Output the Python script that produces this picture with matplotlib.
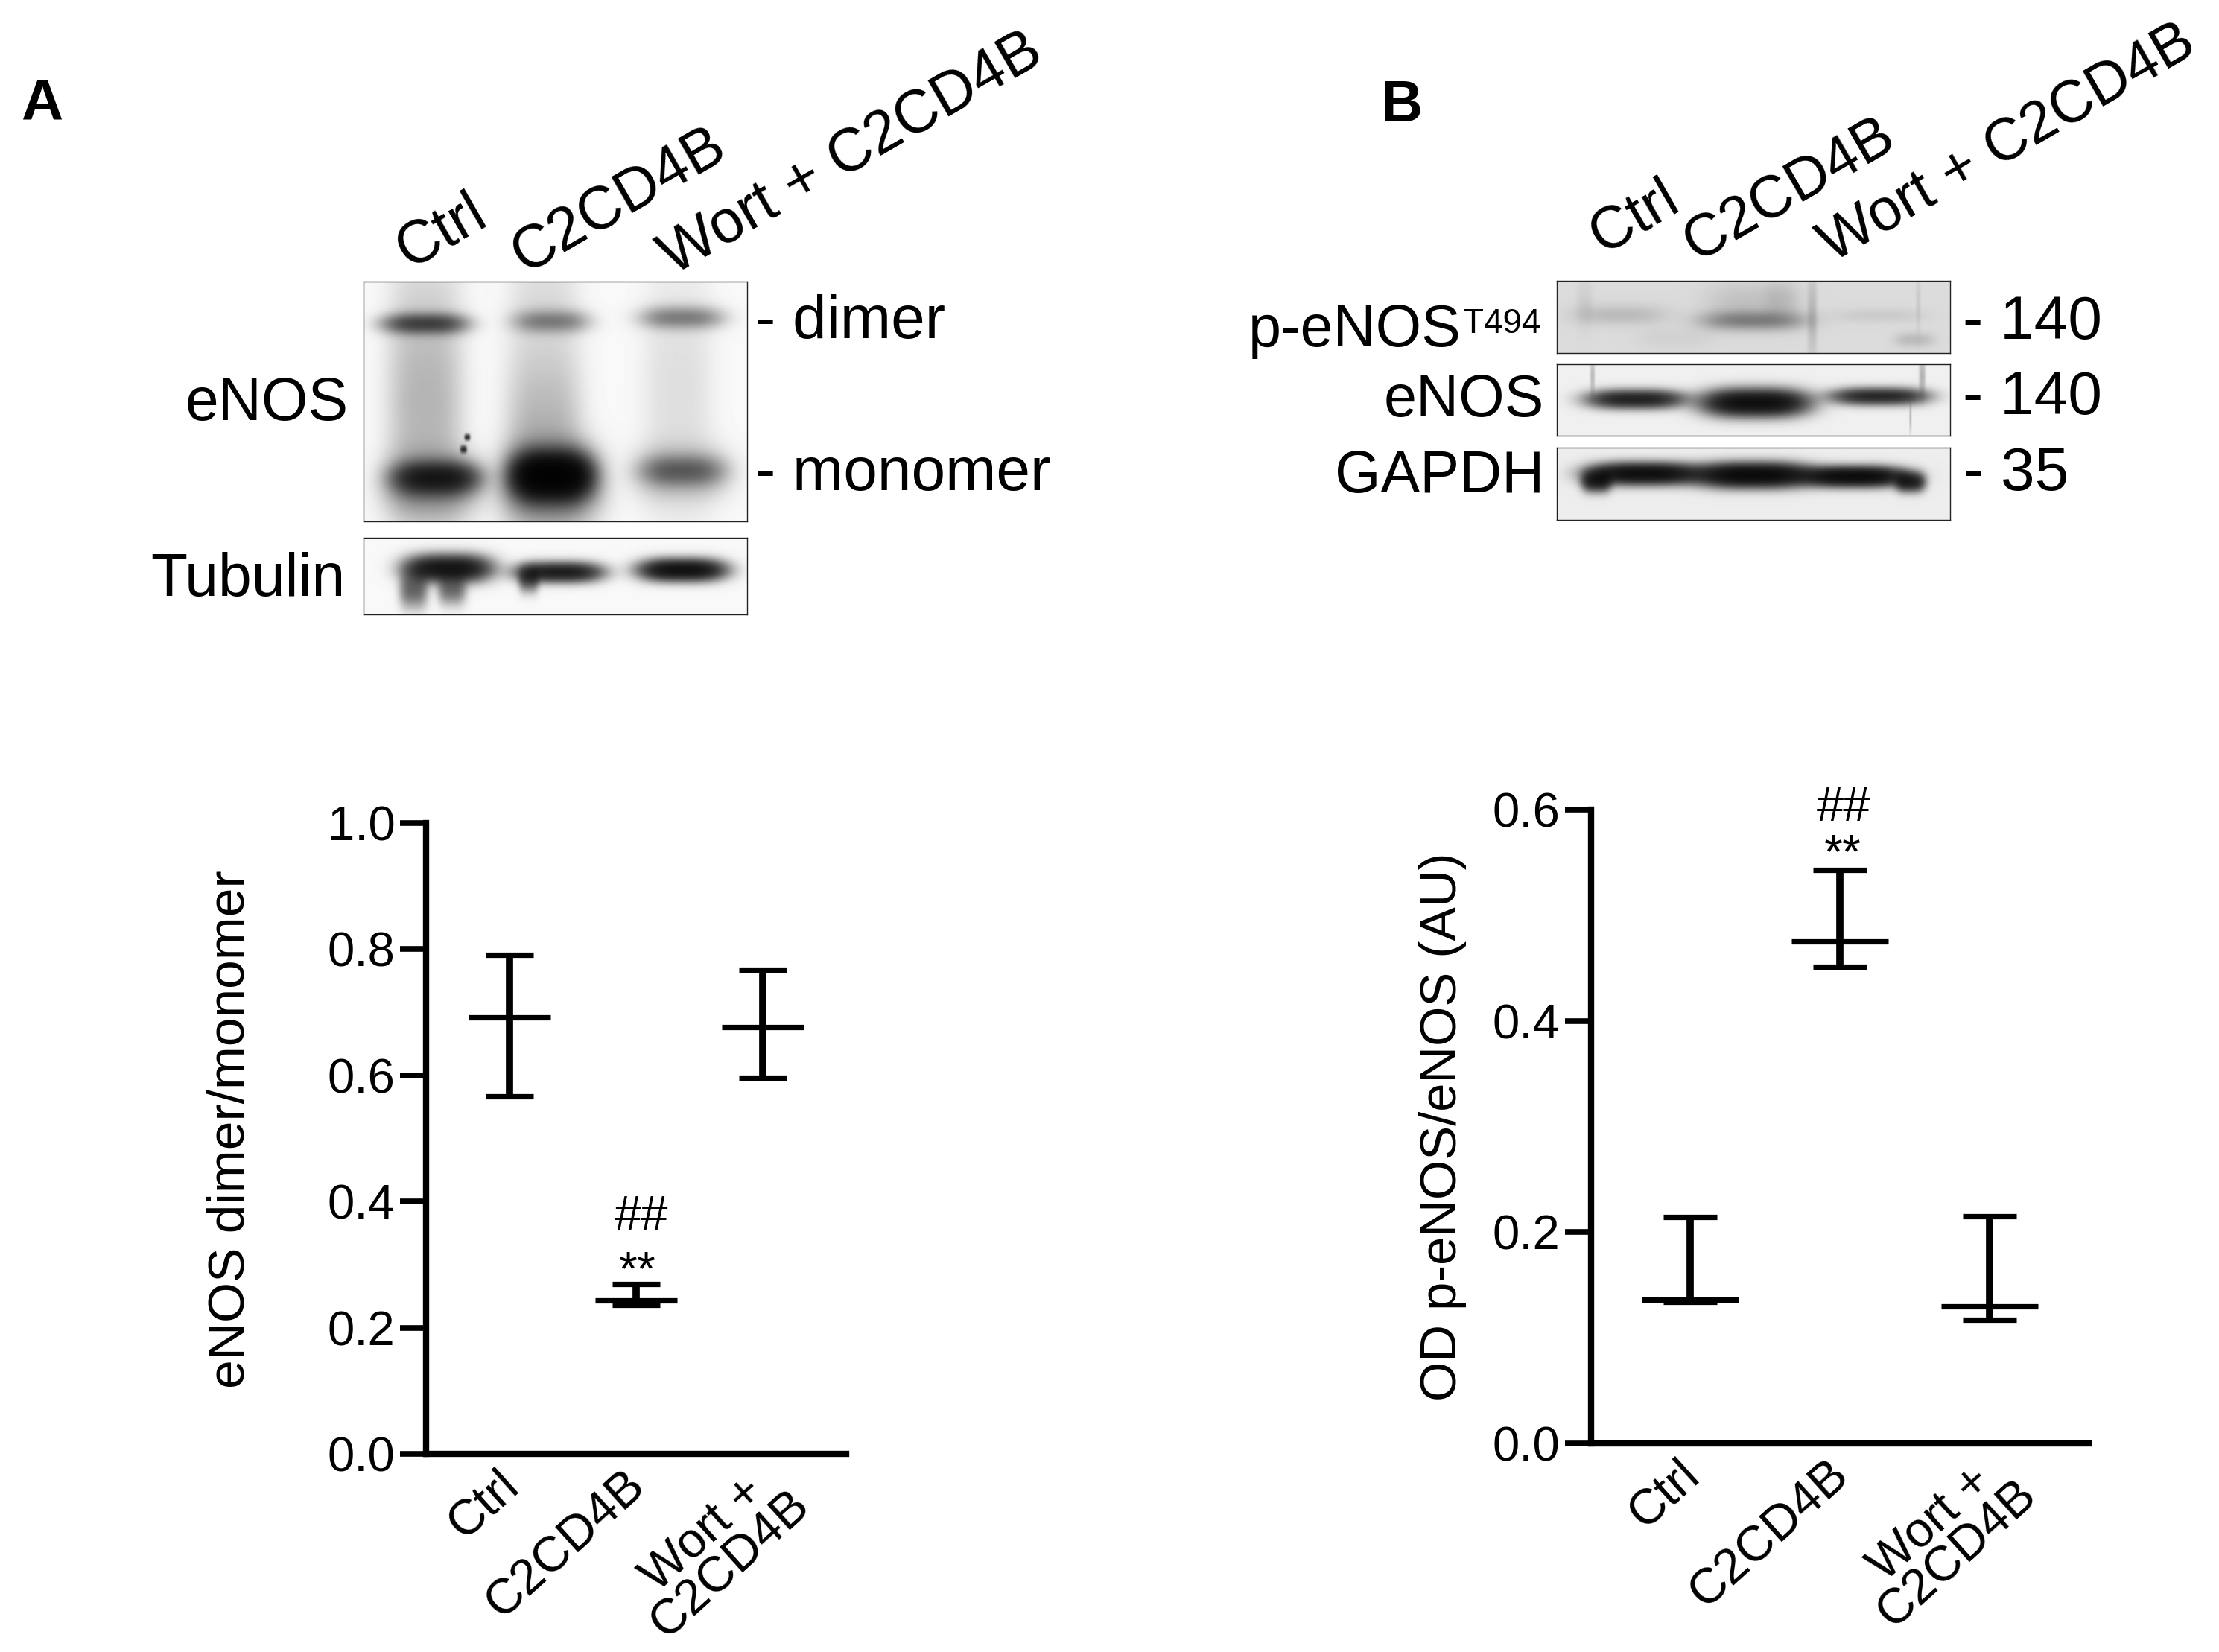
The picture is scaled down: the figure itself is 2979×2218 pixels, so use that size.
from __future__ import annotations

import matplotlib

matplotlib.use("Agg")
import matplotlib.pyplot as plt
from matplotlib.transforms import ScaledTranslation
import numpy as np

W, H = 2979, 2218
DPI = 100
FONT = ["Liberation Sans", "DejaVu Sans"]
plt.rcParams["font.family"] = FONT

GROUPS = ["Ctrl", "C2CD4B", "Wort +\nC2CD4B"]
A_MEAN = [0.692, 0.243, 0.677]
A_HIGH = [0.791, 0.269, 0.768]
A_LOW = [0.567, 0.236, 0.596]
A_TICKS = [0.0, 0.2, 0.4, 0.6, 0.8, 1.0]
B_MEAN = [0.136, 0.475, 0.130]
B_HIGH = [0.214, 0.543, 0.215]
B_LOW = [0.134, 0.451, 0.117]
B_TICKS = [0.0, 0.2, 0.4, 0.6]

# blot bands: x, y (fraction of the box), half width, half height, darkness
A_ENOS_BANDS = [
    (0.16, 0.175, 0.105, 0.040, 0.72), (0.49, 0.165, 0.095, 0.045, 0.36), (0.83, 0.150, 0.105, 0.045, 0.38),
    (0.19, 0.82, 0.105, 0.060, 1.05), (0.49, 0.81, 0.095, 0.085, 2.2), (0.83, 0.79, 0.105, 0.060, 0.42),
    (0.16, 0.50, 0.095, 0.55, 0.20), (0.47, 0.62, 0.095, 0.38, 0.20), (0.82, 0.45, 0.09, 0.55, 0.07),
    (0.47, 0.05, 0.09, 0.20, 0.06),
    (0.18, 0.85, 0.12, 0.12, 0.35), (0.49, 0.85, 0.12, 0.15, 0.5), (0.83, 0.80, 0.12, 0.11, 0.18),
    (0.27, 0.65, 0.007, 0.012, 0.9), (0.26, 0.70, 0.008, 0.014, 0.9),
]
A_TUB_BANDS = [
    (0.22, 0.40, 0.105, 0.16, 1.5), (0.13, 0.68, 0.035, 0.22, 0.55), (0.23, 0.68, 0.035, 0.18, 0.5),
    (0.51, 0.45, 0.105, 0.12, 1.3), (0.43, 0.55, 0.025, 0.15, 0.6), (0.83, 0.42, 0.105, 0.13, 1.6),
]
B_PENOS_BANDS = [
    (0.16, 0.47, 0.12, 0.14, 0.10), (0.50, 0.55, 0.13, 0.13, 0.32), (0.82, 0.48, 0.12, 0.10, 0.05),
    (0.65, 0.50, 0.012, 0.60, 0.10), (0.91, 0.82, 0.05, 0.10, 0.10), (0.92, 0.30, 0.006, 0.4, 0.05),
    (0.50, 0.30, 0.12, 0.30, 0.08), (0.57, 0.25, 0.04, 0.25, 0.05), (0.07, 0.30, 0.02, 0.35, 0.04),
    (0.30, 0.80, 0.10, 0.15, 0.03),
]
B_ENOS_BANDS = [
    (0.20, 0.49, 0.115, 0.12, 1.2), (0.505, 0.54, 0.125, 0.17, 1.7), (0.82, 0.45, 0.115, 0.11, 1.1),
    (0.09, 0.15, 0.006, 0.25, 0.15), (0.93, 0.15, 0.008, 0.25, 0.18), (0.90, 0.75, 0.003, 0.2, 0.15),
]
B_GAPDH_BANDS = [
    (0.22, 0.36, 0.13, 0.135, 1.7), (0.50, 0.38, 0.135, 0.15, 1.9), (0.76, 0.40, 0.12, 0.125, 1.8),
    (0.10, 0.47, 0.035, 0.13, 1.1), (0.90, 0.48, 0.035, 0.12, 1.1),
]


def put(x, y, text, size=58, ha="left", va="center", **kw):
    return fig.text(x / W, 1 - y / H, text, fontsize=size, ha=ha, va=va, color="black", **kw)


def rotated(x, y, text, size=58):
    put(x, y, text, size=size, va="baseline", rotation=30, rotation_mode="anchor")


def blot(x0, y0, x1, y1, bands, background):
    ax = fig.add_axes([x0 / W, 1 - y1 / H, (x1 - x0) / W, (y1 - y0) / H])
    gx, gy = np.meshgrid(np.linspace(0, 1, x1 - x0), np.linspace(0, 1, y1 - y0))
    dark = np.zeros_like(gx)
    for cx, cy, sx, sy, amount in bands:
        dark += amount * np.exp(-(np.abs((gx - cx) / sx) ** 3) - (np.abs((gy - cy) / sy) ** 2))
    ax.imshow(background * np.exp(-1.6 * dark), cmap="gray", vmin=0, vmax=1, aspect="auto")
    ax.set_xticks([])
    ax.set_yticks([])
    for spine in ax.spines.values():
        spine.set_linewidth(1.0)
        spine.set_color("#222222")


def scatter_panel(box, ylim, ticks, mean, high, low, half_mean, half_cap):
    x0, y_top, x1, y_bottom = box
    ax = fig.add_axes([x0 / W, 1 - y_bottom / H, (x1 - x0) / W, (y_bottom - y_top) / H])
    ax.set_xlim(0.34, 3.66)
    ax.set_ylim(*ylim)
    pos = np.arange(1, len(GROUPS) + 1)
    m, hi, lo = np.array(mean), np.array(high), np.array(low)
    ax.errorbar(pos, m, yerr=[m - lo, hi - m], fmt="none", ecolor="black", elinewidth=7,
                capsize=half_cap * 0.72, capthick=5.2, clip_on=False)
    ax.plot(pos, m, linestyle="none", marker="_", markersize=half_mean * 1.44, markeredgewidth=5.2,
            color="black", clip_on=False)
    for side in ("top", "right"):
        ax.spines[side].set_visible(False)
    for side in ("left", "bottom"):
        ax.spines[side].set_linewidth(6.0)
    ax.set_yticks(ticks)
    ax.set_yticklabels([f"{t:.1f}" for t in ticks], fontsize=47, color="black")
    ax.tick_params(axis="y", length=25, width=5.5, pad=5)
    ax.set_xticks(pos)
    ax.set_xticklabels(GROUPS, fontsize=48, rotation=42, ha="right", va="top", ma="center",
                       rotation_mode="anchor", color="black", linespacing=0.85)
    ax.tick_params(axis="x", length=0, pad=8)
    for label, text in zip(ax.get_xticklabels(), GROUPS):
        # the two-line label sits a little closer to the axis
        dx, dy = (-3, 14) if "\n" in text else (-17, 0)
        label.set_transform(label.get_transform() + ScaledTranslation(dx / DPI, dy / DPI, fig.dpi_scale_trans))
    return ax


fig = plt.figure(figsize=(W / DPI, H / DPI), dpi=DPI, facecolor="white")


def main() -> int:
    fig.text(56 / W, 1 - 160 / H, "A", fontsize=56, ha="center", va="baseline", fontweight="bold", color="black")
    fig.text(1882 / W, 1 - 163 / H, "B", fontsize=56, ha="center", va="baseline", fontweight="bold", color="black")

    # panel A blots
    rotated(549, 361, "Ctrl")
    rotated(704, 367, "C2CD4B")
    rotated(903, 370, "Wort + C2CD4B")
    blot(488, 378, 1003, 700, A_ENOS_BANDS, 0.975)
    blot(488, 722, 1003, 825, A_TUB_BANDS, 0.975)
    put(468, 543, "eNOS", ha="right")
    put(463, 779, "Tubulin", ha="right")
    put(1014, 433, "- dimer", size=59)
    put(1014, 637, "- monomer", size=59)

    # panel B blots
    rotated(2152, 341, "Ctrl", size=57)
    rotated(2277, 351, "C2CD4B", size=57)
    rotated(2460, 353, "Wort + C2CD4B", size=57)
    blot(2090, 377, 2618, 474, B_PENOS_BANDS, 0.86)
    blot(2090, 489, 2618, 585, B_ENOS_BANDS, 0.94)
    blot(2090, 601, 2618, 698, B_GAPDH_BANDS, 0.93)
    put(1962, 465, "p-eNOS", size=57, ha="right", va="baseline")
    put(2068, 447, "T494", size=33, ha="right", va="baseline")
    put(2073, 538, "eNOS", size=57, ha="right")
    put(2073, 641, "GAPDH", size=57, ha="right")
    put(2635, 434, "- 140", size=59)
    put(2635, 535, "- 140", size=59)
    put(2636, 637, "- 35", size=59)

    scatter_panel((572, 1105, 1136, 1952), (0, 1.0), A_TICKS, A_MEAN, A_HIGH, A_LOW, 55, 32)
    put(310, 1516, "eNOS dimer/monomer", size=50, ha="center", rotation=90)
    put(861, 1634, "##", size=47, ha="center")
    put(856, 1708, "**", size=46, ha="center")

    scatter_panel((2136, 1087, 2804, 1938), (0, 0.6), B_TICKS, B_MEAN, B_HIGH, B_LOW, 65, 36)
    put(1937, 1513, "OD p-eNOS/eNOS (AU)", size=49.5, ha="center", rotation=90)
    put(2475, 1085, "##", size=47, ha="center")
    put(2474, 1148, "**", size=46, ha="center")

    fig.savefig("out.png", dpi=DPI, facecolor="white")
    plt.close(fig)
    return 0


if __name__ == "__main__":
    raise SystemExit(main())
